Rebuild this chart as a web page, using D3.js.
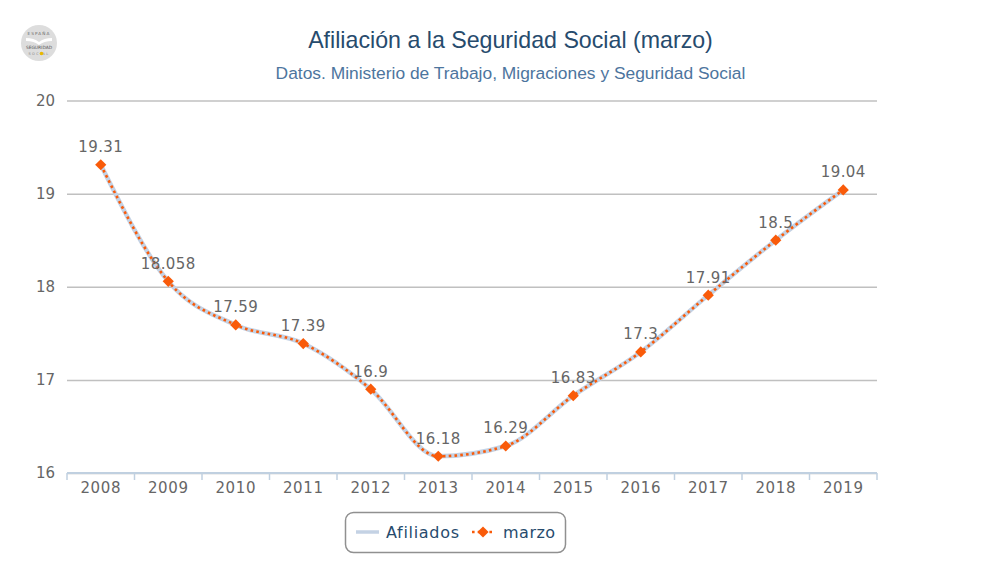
<!DOCTYPE html>
<html>
<head>
<meta charset="utf-8">
<script src="https://cdn.jsdelivr.net/npm/d3@7"></script>
<style>
  html, body { margin: 0; padding: 0; background: #fff; }
  svg { display: block; }
  text { font-family: "DejaVu Sans", sans-serif; }
  .title, .subtitle { font-family: "Liberation Sans", Arial, sans-serif; }
  .domain { display: none; }
</style>
</head>
<body>
<svg id="chart" width="1005" height="573"></svg>
<script>
const years = ['2008','2009','2010','2011','2012','2013','2014','2015','2016','2017','2018','2019'];
const marzo = [19.31, 18.058, 17.59, 17.39, 16.9, 16.18, 16.29, 16.83, 17.3, 17.91, 18.5, 19.04];
const yTicks = [16, 17, 18, 19, 20];

const svg = d3.select('#chart');

const x = d3.scaleBand().domain(years).range([67, 877]);
const y = d3.scaleLinear().domain([16, 20]).range([473, 100.5]);
const cx = d => x(d) + x.bandwidth() / 2;

// logo
const logo = svg.append('g').attr('transform', 'translate(39,43)');
logo.append('circle').attr('r', 18).attr('fill', '#dddddd');
logo.append('text').attr('text-anchor', 'middle').attr('y', -8)
  .attr('font-size', 4.2).attr('letter-spacing', 1.1).attr('fill', '#666').text('ESPAÑA');
logo.append('path').attr('d', 'M-13,-5 Q-5,-5 0,-1 Q5,-5 13,-5 L13,-2 Q5,-2 0,2 Q-5,-2 -13,-2 Z').attr('fill', '#fff');
logo.append('text').attr('text-anchor', 'middle').attr('y', 5.5)
  .attr('font-size', 4.4).attr('fill', '#555').text('SEGURIDAD');
logo.append('text').attr('text-anchor', 'middle').attr('y', 11.5)
  .attr('font-size', 3.5).attr('letter-spacing', 1.4).attr('fill', '#888').text('SOCIAL');
logo.append('circle').attr('cx', 2.5).attr('cy', 10.5).attr('r', 1.8).attr('fill', '#e8b800');

// titles
svg.append('text').attr('class', 'title').attr('x', 510.5).attr('y', 48)
  .attr('text-anchor', 'middle').attr('font-size', 23.2).attr('fill', '#274b6d')
  .text('Afiliación a la Seguridad Social (marzo)');
svg.append('text').attr('class', 'subtitle').attr('x', 510.5).attr('y', 79)
  .attr('text-anchor', 'middle').attr('font-size', 17.4).attr('fill', '#4d759e')
  .text('Datos. Ministerio de Trabajo, Migraciones y Seguridad Social');

// y grid and labels
const yAxis = svg.append('g').attr('transform', 'translate(67,0)')
  .call(d3.axisLeft(y).tickValues(yTicks).tickSize(-810).tickPadding(12).tickFormat(d3.format('d')));
yAxis.selectAll('.tick line').attr('stroke', '#c0c0c0').attr('stroke-width', 1.5);
yAxis.selectAll('.tick text').attr('font-size', 15).attr('fill', '#666')
  .attr('font-family', '"DejaVu Sans", sans-serif').attr('dy', '0.32em');

// x axis
const xAxis = svg.append('g').attr('transform', 'translate(0,473)')
  .call(d3.axisBottom(x).tickSize(0).tickPadding(9));
xAxis.selectAll('.tick text').attr('font-size', 15).attr('fill', '#666')
  .attr('font-family', '"DejaVu Sans", sans-serif').attr('letter-spacing', 0.6);
svg.append('line').attr('x1', 67).attr('x2', 877).attr('y1', 473).attr('y2', 473)
  .attr('stroke', '#c0d0e0').attr('stroke-width', 2);
svg.append('g').selectAll('line').data(d3.range(years.length + 1)).join('line')
  .attr('x1', i => 67 + i * x.step()).attr('x2', i => 67 + i * x.step())
  .attr('y1', 473).attr('y2', 480)
  .attr('stroke', '#c0d0e0').attr('stroke-width', 1.5);

// series: same values drawn twice
const line = d3.line().x((d, i) => cx(years[i])).y(d => y(d)).curve(d3.curveMonotoneX);
svg.append('path').attr('d', line(marzo)).attr('fill', 'none')
  .attr('stroke', '#c4d2e4').attr('stroke-width', 4.5);
svg.append('path').attr('d', line(marzo)).attr('fill', 'none')
  .attr('stroke', '#f95b0a').attr('stroke-width', 2.6).attr('stroke-dasharray', '2.6,3.2');

const diamond = d3.symbol().type(d3.symbolDiamond2).size(80);
svg.append('g').selectAll('path').data(marzo).join('path')
  .attr('d', diamond)
  .attr('transform', (d, i) => `translate(${cx(years[i])},${y(d)})`)
  .attr('fill', '#f95b0a');

// data labels
svg.append('g').selectAll('text').data(marzo).join('text')
  .attr('x', (d, i) => cx(years[i]))
  .attr('y', d => y(d) - 12.5)
  .attr('text-anchor', 'middle').attr('font-size', 15).attr('fill', '#666')
  .attr('letter-spacing', 0.4)
  .text(d => d);

// legend
const legend = svg.append('g');
legend.append('rect').attr('x', 345.5).attr('y', 512.5).attr('width', 220).attr('height', 40)
  .attr('rx', 8).attr('fill', '#fff').attr('stroke', '#909090').attr('stroke-width', 1.5);
legend.append('line').attr('x1', 356).attr('x2', 379).attr('y1', 532).attr('y2', 532)
  .attr('stroke', '#c4d2e4').attr('stroke-width', 3.5);
legend.append('text').attr('x', 386).attr('y', 538).attr('font-size', 16).attr('fill', '#274b6d')
  .attr('letter-spacing', 0.7).text('Afiliados');
legend.append('line').attr('x1', 472).attr('x2', 493).attr('y1', 532).attr('y2', 532)
  .attr('stroke', '#f95b0a').attr('stroke-width', 2.6).attr('stroke-dasharray', '2.6,3.2');
legend.append('path').attr('d', diamond).attr('transform', 'translate(483,532)').attr('fill', '#f95b0a');
legend.append('text').attr('x', 503).attr('y', 538).attr('font-size', 16).attr('fill', '#274b6d')
  .attr('letter-spacing', 0.5).text('marzo');
</script>
</body>
</html>
